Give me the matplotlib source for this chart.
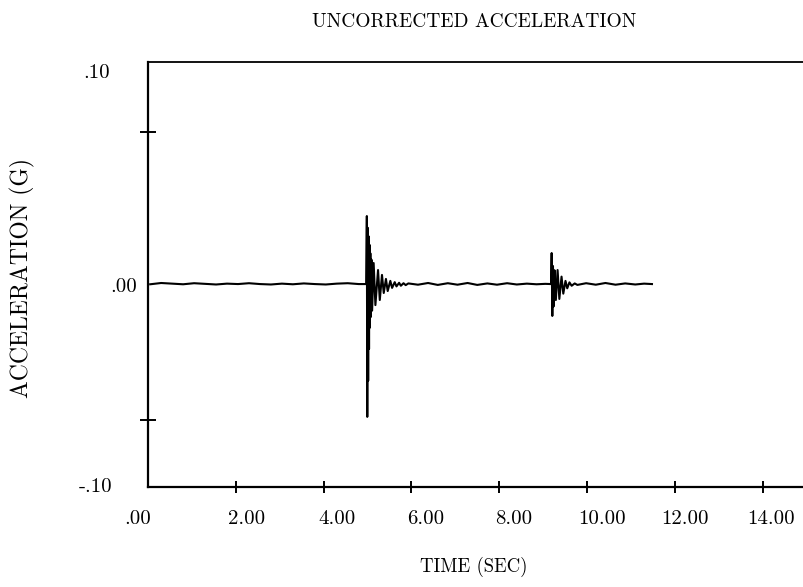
import matplotlib
matplotlib.use("Agg")
import matplotlib.pyplot as plt
import matplotlib.transforms as mtransforms

plt.rcParams['font.family'] = ['cmr10', 'DejaVu Serif']
plt.rcParams['axes.unicode_minus'] = False

# ---- data ----
time_s = [
    0.05, 0.30, 0.55, 0.80, 1.05, 1.30, 1.55, 1.80, 2.05, 2.30, 2.55, 2.80, 3.05,
    3.30, 3.55, 3.80, 4.05, 4.30, 4.55, 4.80, 4.97,
    4.985, 4.995, 5.005, 5.015, 5.025, 5.035, 5.045, 5.055, 5.065, 5.075, 5.09, 5.105,
    5.14, 5.18, 5.24, 5.28, 5.33, 5.37, 5.42, 5.46, 5.52, 5.56, 5.62, 5.66, 5.72,
    5.76, 5.82, 5.87, 5.93,
    6.15, 6.38, 6.60, 6.83, 7.05, 7.28, 7.50, 7.73, 7.95, 8.18, 8.40, 8.63, 8.85,
    9.05, 9.18,
    9.195, 9.21, 9.225, 9.24, 9.26, 9.29, 9.33, 9.37, 9.42, 9.46, 9.51, 9.55, 9.60,
    9.65, 9.72, 9.78,
    9.98, 10.20, 10.42, 10.65, 10.87, 11.10, 11.30, 11.48,
]
accel_g = [
    -0.0046, -0.0040, -0.0043, -0.0046, -0.0041, -0.0044, -0.0047, -0.0043, -0.0045,
    -0.0041, -0.0045, -0.0047, -0.0043, -0.0046, -0.0042, -0.0045, -0.0047, -0.0043,
    -0.0041, -0.0045, -0.0045,
    0.0275, -0.0670, 0.0220, -0.0500, 0.0180, -0.0350, 0.0140, -0.0250, 0.0100,
    -0.0200, 0.0070, -0.0170,
    0.0054, -0.0144, 0.0021, -0.0120, -0.0002, -0.0087, -0.0021, -0.0078, -0.0030,
    -0.0063, -0.0036, -0.0056, -0.0039, -0.0053, -0.0041, -0.0050, -0.0042,
    -0.0048, -0.0040, -0.0049, -0.0041, -0.0048, -0.0040, -0.0049, -0.0042, -0.0048,
    -0.0041, -0.0047, -0.0043, -0.0046,
    -0.0044, -0.0045,
    0.0101, -0.0195, 0.0040, -0.0150, 0.0020, -0.0120, 0.0021, -0.0115, -0.0010,
    -0.0090, -0.0030, -0.0065, -0.0037, -0.0053, -0.0042, -0.0049,
    -0.0041, -0.0048, -0.0040, -0.0048, -0.0042, -0.0047, -0.0043, -0.0045,
]

x_ticks = [2, 4, 6, 8, 10, 12, 14]
x_label_vals = [0, 2, 4, 6, 8, 10, 12, 14]
x_label_text = ['.00', '2.00', '4.00', '6.00', '8.00', '10.00', '12.00', '14.00']
y_tick_marks = [0.067, -0.0685]
y_label_vals = [0.0948, -0.0059, -0.10]
y_label_text = ['.10', '.00', '-.10']

title = 'UNCORRECTED ACCELERATION'
xlabel = 'TIME (SEC)'
ylabel = 'ACCELERATION (G)'

# ---- figure ----
W, H = 804, 587
fig = plt.figure(figsize=(W / 100, H / 100), dpi=100)
left, right, top, bottom = 148, 806.5, 62, 487
ax = fig.add_axes([left / W, 1 - bottom / H, (right - left) / W, (bottom - top) / H])
ax.set_xlim(0, 15)
ax.set_ylim(-0.10, 0.10)

ax.plot(time_s, accel_g, color='black', lw=1.5, solid_joinstyle='round')

for s in ['left', 'bottom']:
    ax.spines[s].set_linewidth(1.6)
ax.spines['top'].set_linewidth(1.3)
ax.spines['right'].set_visible(False)

ax.set_xticks(x_ticks)
ax.set_xticklabels([])
ax.tick_params(axis='x', direction='inout', length=9, width=1.4, color='black')
ax.set_yticks(y_tick_marks)
ax.set_yticklabels([])
ax.tick_params(axis='y', direction='inout', length=11, width=1.4, color='black')

fs = 15
# x labels (pixel offsets mimic the scanned layout)
x_off_px = [-10, 11, 13, 14, 14, 15, 10, 8]
for v, t, dx in zip(x_label_vals, x_label_text, x_off_px):
    tr = mtransforms.offset_copy(ax.get_xaxis_transform(), fig=fig, x=dx * 0.72, y=-32 * 0.72, units='points')
    ax.text(v, 0, t, transform=tr, ha='center', va='center', fontsize=fs)

y_right_px = [110, 137, 112]
for v, t, xr in zip(y_label_vals, y_label_text, y_right_px):
    tr = mtransforms.blended_transform_factory(fig.transFigure, ax.transData)
    ax.text(xr / W, v, t, transform=tr, ha='right', va='center', fontsize=fs)

fig.text(474 / W, 1 - 22 / H, title, ha='center', va='center', fontsize=14)
fig.text(474 / W, 1 - 567 / H, xlabel, ha='center', va='center', fontsize=13.5)
fig.text(22 / W, 1 - 278 / H, ylabel, ha='center', va='center', rotation=90, fontsize=17)

fig.savefig('out.png', dpi=100)
